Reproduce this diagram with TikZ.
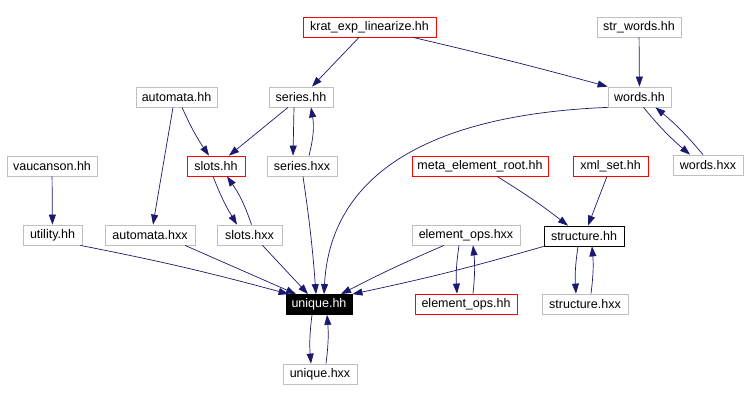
\documentclass[tikz,border=0pt]{standalone}
\usepackage{fontspec}
\setmainfont{Liberation Sans}
\usetikzlibrary{arrows.meta}
\definecolor{edgeblue}{RGB}{25,25,112}
\definecolor{boxgray}{RGB}{191,191,191}
\definecolor{boxred}{RGB}{255,0,0}
\begin{document}
\begin{tikzpicture}[x=1pt,y=-1pt,
  file/.style={draw=boxgray,line width=0.8pt,minimum height=20pt,inner sep=0pt,font=\fontsize{12.5}{14}\selectfont},
  redfile/.style={file,draw=boxred},
  dep/.style={edgeblue,line width=0.7pt,-{Triangle[length=10pt,width=7pt]}}]
\useasboundingbox (0,0) rectangle (746,401);
\fill[white] (0,0) rectangle (746,401);
\node [redfile,minimum width=133pt] (krat) at (369.5,27) {krat\_exp\_linearize.hh};
\node [file,minimum width=84pt] (strwords) at (639,27) {str\_words.hh};
\node [file,minimum width=81pt] (automata) at (176.5,97) {automata.hh};
\node [file,minimum width=64pt] (series) at (301,97) {series.hh};
\node [file,minimum width=63pt] (words) at (639.5,97) {words.hh};
\node [file,minimum width=90pt] (vaucanson) at (52,166) {vaucanson.hh};
\node [redfile,minimum width=58pt] (slots) at (216,166) {slots.hh};
\node [file,minimum width=70pt] (serieshxx) at (302,166) {series.hxx};
\node [redfile,minimum width=136pt] (meta) at (480,166) {meta\_element\_root.hh};
\node [redfile,minimum width=75pt] (xmlset) at (610.5,166) {xml\_set.hh};
\node [file,minimum width=70pt] (wordshxx) at (708,165) {words.hxx};
\node [file,minimum width=59pt] (utility) at (52.5,235) {utility.hh};
\node [file,minimum width=90pt] (automatahxx) at (150,235) {automata.hxx};
\node [file,minimum width=65pt] (slotshxx) at (249.5,235) {slots.hxx};
\node [file,minimum width=108pt] (elemhxx) at (466,235) {element\_ops.hxx};
\node [file,draw=black,minimum width=80pt] (structure) at (584,236) {structure.hh};
\node [file,draw=black,fill=black,text=white,minimum width=66pt] (unique) at (319,304.5) {unique.hh};
\node [redfile,minimum width=102pt] (elemhh) at (466,304) {element\_ops.hh};
\node [file,minimum width=86pt] (structurehxx) at (585,304) {structure.hxx};
\node [file,minimum width=74pt] (uniquehxx) at (320,374) {unique.hxx};
\draw [dep] ([xshift=-10.5pt]krat.south) -- ([xshift=11pt]series.north);
\draw [dep] ([xshift=43.5pt]krat.south) to[bend left=1] (words.north west);
\draw [dep] (strwords) -- (words);
\draw [dep] ([xshift=4pt]words.south) to[bend right=5] ([xshift=-18pt]wordshxx.north);
\draw [dep] ([xshift=-5pt]wordshxx.north) to[bend right=5] ([xshift=16pt]words.south);
\draw [dep] (words.south west) .. controls (420,115) and (330,180) .. ([xshift=5pt]unique.north);
\draw [dep] ([xshift=5.5pt]automata.south) to[bend right=5] ([xshift=-7pt]slots.north);
\draw [dep] ([xshift=-3.5pt]automata.south) -- ([xshift=3pt]automatahxx.north);
\draw [dep] ([xshift=-13pt]series.south) -- ([xshift=13pt]slots.north);
\draw [dep] ([xshift=-7pt]series.south) -- ([xshift=-9pt]serieshxx.north);
\draw [dep] ([xshift=7pt]serieshxx.north) to[bend right=12] ([xshift=10pt]series.south);
\draw [dep] ([xshift=1pt]serieshxx.south) to[bend left=2] ([xshift=-3pt]unique.north);
\draw [dep] ([xshift=-3pt]slots.south) to[bend right=5] ([xshift=-12.5pt]slotshxx.north);
\draw [dep] ([xshift=2pt]slotshxx.north) to[bend right=8] ([xshift=11pt]slots.south);
\draw [dep] ([xshift=13pt]slotshxx.south) -- ([xshift=-11pt]unique.north);
\draw [dep] (vaucanson) -- (utility);
\draw [dep] ([xshift=-2pt]utility.south east) to[bend left=2] ([xshift=3pt]unique.north west);
\draw [dep] ([xshift=35pt]automatahxx.south) -- ([xshift=-23pt]unique.north);
\draw [dep] ([xshift=-22pt]elemhxx.south) to[bend right=2] ([xshift=22pt]unique.north);
\draw [dep] (structure.south west) to[bend left=2] (unique.north east);
\draw [dep] ([xshift=-7pt]elemhxx.south) to[bend right=6] ([xshift=-9pt]elemhh.north);
\draw [dep] ([xshift=7pt]elemhh.north) to[bend right=6] ([xshift=7pt]elemhxx.south);
\draw [dep] ([xshift=17pt]meta.south) to[bend left=3] ([xshift=-16pt]structure.north);
\draw [dep] ([xshift=-3.5pt]xmlset.south) -- ([xshift=4pt]structure.north);
\draw [dep] ([xshift=-6pt]structure.south) to[bend right=6] ([xshift=-9pt]structurehxx.north);
\draw [dep] ([xshift=6pt]structurehxx.north) to[bend right=6] ([xshift=8pt]structure.south);
\draw [dep] ([xshift=-7pt]unique.south) to[bend right=6] ([xshift=-9pt]uniquehxx.north);
\draw [dep] ([xshift=6pt]uniquehxx.north) to[bend right=6] ([xshift=8pt]unique.south);
\end{tikzpicture}
\end{document}
